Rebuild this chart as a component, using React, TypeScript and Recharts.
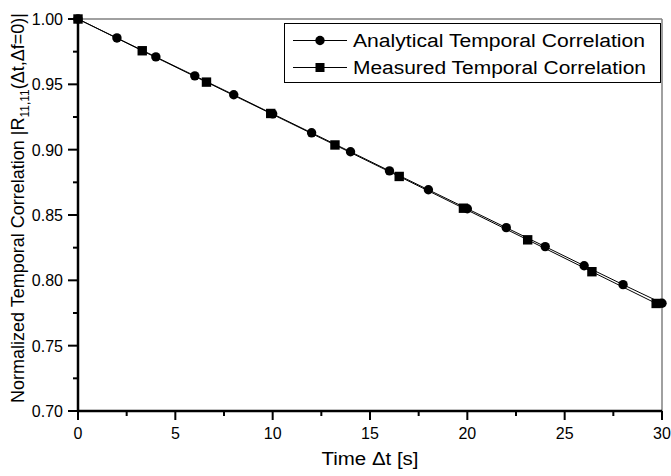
import React from 'react';
import { LineChart, Line, XAxis, YAxis, ReferenceLine, Legend } from 'recharts';

const analyticalTime = [0, 2, 4, 6, 8, 10, 12, 14, 16, 18, 20, 22, 24, 26, 28, 30];
const analyticalValues = [1.0, 0.9855, 0.971, 0.9565, 0.942, 0.9274, 0.9129, 0.8984, 0.8838, 0.8693, 0.8548, 0.8403, 0.8258, 0.8112, 0.7967, 0.7825];
const measuredTime = [0, 3.3, 6.6, 9.9, 13.2, 16.5, 19.8, 23.1, 26.4, 29.7];
const measuredValues = [1.0, 0.9757, 0.9517, 0.9277, 0.9036, 0.8795, 0.8552, 0.831, 0.8066, 0.7823];
const xTicks = [0, 2.5, 5, 7.5, 10, 12.5, 15, 17.5, 20, 22.5, 25, 27.5, 30];
const yTicks = [0.7, 0.725, 0.75, 0.775, 0.8, 0.825, 0.85, 0.875, 0.9, 0.925, 0.95, 0.975, 1.0];
const seriesNames = ['Analytical Temporal Correlation', 'Measured Temporal Correlation'];

const analyticalData = analyticalTime.map((t, i) => ({ t, v: analyticalValues[i] }));
const measuredData = measuredTime.map((t, i) => ({ t, v: measuredValues[i] }));

const FONT = 'Arial, "Liberation Sans", Helvetica, sans-serif';

const XTick = (props: any) => {
  const { x, y, payload } = props;
  const major = Math.abs(payload.value % 5) < 1e-6;
  return (
    <g>
      <rect x={x - 1} y={y} width={2} height={major ? 9 : 5} fill="#000" />
      {major && (
        <text x={x} y={y + 28} textAnchor="middle" fontSize={16} fontFamily={FONT} fill="#000">
          {payload.value}
        </text>
      )}
    </g>
  );
};

const YTick = (props: any) => {
  const { x, y, payload } = props;
  const v = payload.value;
  const major = Math.abs(Math.round(v * 1000) % 50) < 1e-6;
  const len = major ? 10 : 5;
  return (
    <g>
      <rect x={x - len} y={y - 1} width={len} height={2} fill="#000" />
      {major && (
        <text x={x - 15} y={y + 6} textAnchor="end" fontSize={16} fontFamily={FONT} fill="#000">
          {v.toFixed(2)}
        </text>
      )}
    </g>
  );
};

const YLabel = () => (
  <text
    transform="translate(24, 208) rotate(-90)"
    textAnchor="middle"
    fontSize={18}
    fontFamily={FONT}
    fill="#000"
  >
    <tspan>Normalized Temporal Correlation |R</tspan>
    <tspan fontSize={12} dy={5}>11,11</tspan>
    <tspan dy={-5}>(Δt,Δf=0)|</tspan>
  </text>
);

const XLabel = () => (
  <text x={370} y={465} textAnchor="middle" fontSize={18} fontFamily={FONT} fill="#000" textLength={97} lengthAdjust="spacingAndGlyphs">
    Time Δt [s]
  </text>
);

const LegendBox = () => (
  <svg width={378} height={61} style={{ display: 'block' }}>
    <rect x={0.5} y={0.5} width={376} height={59} fill="#fff" stroke="#000" strokeWidth={1} />
    <line x1={9} x2={63} y1={17.5} y2={17.5} stroke="#000" strokeWidth={1} />
    <circle cx={36} cy={17.5} r={4.7} fill="#000" />
    <text x={69} y={24} fontSize={18} fontFamily={FONT} fill="#000" textLength={292} lengthAdjust="spacingAndGlyphs">{seriesNames[0]}</text>
    <line x1={9} x2={63} y1={44.5} y2={44.5} stroke="#000" strokeWidth={1} />
    <rect x={31.5} y={40} width={9} height={9} fill="#000" />
    <text x={69} y={51} fontSize={18} fontFamily={FONT} fill="#000" textLength={293} lengthAdjust="spacingAndGlyphs">{seriesNames[1]}</text>
  </svg>
);

const Square = (props: any) => {
  const { cx, cy } = props;
  if (cx == null || cy == null) return null;
  return <rect x={cx - 4.7} y={cy - 4.7} width={9.4} height={9.4} fill="#000" />;
};

export default function App() {
  return (
    <div style={{ position: 'absolute', left: 0, top: 0, width: 671, height: 476, background: '#fff' }}>
      <LineChart width={671} height={476} margin={{ top: 19, right: 9, left: 0, bottom: 0 }}>
        <XAxis
          dataKey="t"
          type="number"
          domain={[0, 30]}
          ticks={xTicks}
          interval={0}
          height={65}
          tickSize={0}
          tickMargin={0}
          tickLine={false}
          stroke="#000"
          axisLine={false}
          tick={<XTick />}
          label={<XLabel />}
          allowDuplicatedCategory={false}
        />
        <YAxis
          type="number"
          domain={[0.7, 1.0]}
          ticks={yTicks}
          interval={0}
          width={78}
          tickSize={0}
          tickMargin={0}
          tickLine={false}
          stroke="#000"
          axisLine={false}
          tick={<YTick />}
          label={<YLabel />}
        />
        <ReferenceLine y={1.0} stroke="#808080" strokeWidth={1.5} />
        <ReferenceLine x={30} stroke="#808080" strokeWidth={1.5} />
        <ReferenceLine y={0.7} stroke="#000" strokeWidth={2.5} />
        <ReferenceLine x={0} stroke="#000" strokeWidth={2.5} />
        <Legend
          layout="vertical"
          align="center"
          verticalAlign="middle"
          content={<LegendBox />}
          wrapperStyle={{ position: 'absolute', left: 284, top: 23, width: 378, height: 61 }}
        />
        <Line
          data={analyticalData}
          dataKey="v"
          name={seriesNames[0]}
          stroke="#000"
          strokeWidth={1}
          dot={{ r: 4.7, fill: '#000', stroke: 'none' }}
          activeDot={false}
          isAnimationActive={false}
        />
        <Line
          data={measuredData}
          dataKey="v"
          name={seriesNames[1]}
          stroke="#000"
          strokeWidth={1}
          dot={<Square />}
          activeDot={false}
          isAnimationActive={false}
        />
      </LineChart>
    </div>
  );
}
